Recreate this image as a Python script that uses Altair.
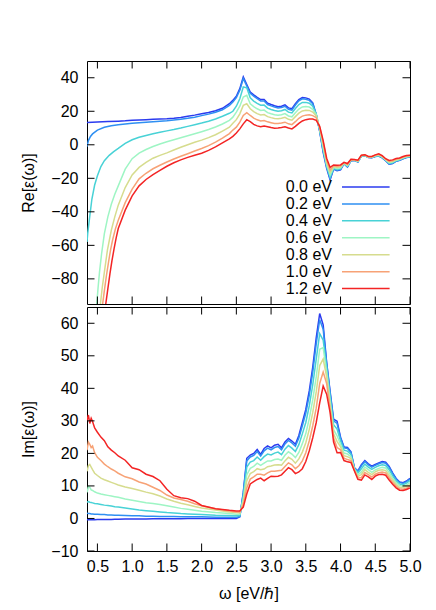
import altair as alt
import pandas as pd

FONT = "Liberation Sans"
LABELS = ["0.0 eV", "0.2 eV", "0.4 eV", "0.6 eV", "0.8 eV", "1.0 eV", "1.2 eV"]
COLORS = ["#2b3bef", "#2e8ff2", "#48d2d6", "#9ef5c4", "#d6dc8e", "#f7a276", "#f32424"]

X_TICKS = [0.5, 1.0, 1.5, 2.0, 2.5, 3.0, 3.5, 4.0, 4.5, 5.0]
RE_TICKS = [-80, -60, -40, -20, 0, 20, 40]
IM_TICKS = [-10, 0, 10, 20, 30, 40, 50, 60]

# ---------------- Re[eps] ----------------
RE_X = [0.8, 0.9, 1.0, 1.1, 1.2, 1.3, 1.4, 1.5, 1.6, 1.7, 1.8, 1.9, 2.0, 2.1, 2.2, 2.3, 2.4,
        2.45, 2.5, 2.55, 2.6, 2.65, 2.7, 2.75, 2.8, 2.85, 2.9, 2.95, 3.0, 3.05, 3.1, 3.15, 3.2,
        3.25, 3.3, 3.35, 3.4, 3.45, 3.5, 3.55, 3.6, 3.65, 3.7, 3.75, 3.8, 3.85, 3.9, 3.95, 4.0,
        4.05, 4.1, 4.15, 4.2, 4.25, 4.3, 4.35, 4.4, 4.45, 4.5, 4.55, 4.6, 4.65, 4.7, 4.75, 4.8,
        4.85, 4.9, 4.95, 5.0]

RE_LEFT_X = [
    [0.35, 0.5, 0.65],
    [0.35, 0.37, 0.4, 0.43, 0.5, 0.6, 0.7],
    [0.35, 0.36, 0.38, 0.42, 0.46, 0.5, 0.55, 0.6, 0.67, 0.73],
    [0.49, 0.51, 0.53, 0.56, 0.6, 0.65, 0.7, 0.75],
    [0.543, 0.57, 0.6, 0.645, 0.7, 0.75],
    [0.575, 0.6, 0.63, 0.66, 0.69, 0.72, 0.76],
    [0.62, 0.65, 0.68, 0.71, 0.74, 0.77],
]
RE_LEFT_Y = [
    [13.3, 13.6, 13.9],
    [-1.0, 2.5, 5.0, 6.5, 8.8, 10.5, 11.4],
    [-58.0, -53.0, -46.0, -32.5, -24.0, -18.5, -13.0, -9.5, -6.3, -4.2],
    [-95.0, -85.0, -76.0, -65.0, -53.0, -43.0, -35.5, -29.5],
    [-95.0, -85.0, -76.0, -62.5, -51.0, -43.0],
    [-95.0, -87.0, -78.0, -70.0, -62.5, -56.5, -50.0],
    [-95.0, -86.0, -77.0, -69.0, -62.0, -55.5],
]

RE_00 = [14.1, 14.3, 14.6, 14.8, 15.0, 15.2, 15.4, 15.6, 15.9, 16.3, 17.0, 17.7, 18.5, 19.3, 20.3, 21.8, 24.5,
         26.5, 29.0, 33.5, 40.5, 36.0, 31.5, 29.8, 28.3, 27.0, 27.0,
         24.8, 24.0, 23.3, 22.7, 23.0, 23.8, 22.0, 21.5, 24.5, 27.0,
         28.2, 28.0, 27.3, 25.0, 18.0, 8.0, -4.5, -14.0, -21.0, -14.5,
         -15.5, -15.0, -11.3, -13.3, -9.5, -9.3, -10.3, -6.8, -6.5, -7.6,
         -7.7, -7.0, -6.7, -7.8, -9.5, -11.6, -11.2, -9.8, -9.3, -8.3,
         -7.6, -7.3]
RE_02 = [12.0, 12.4, 12.8, 13.2, 13.5, 13.8, 14.1, 14.4, 14.8, 15.2, 15.8, 16.5, 17.4, 18.3, 19.4, 20.9, 23.5,
         25.6, 28.2, 32.5, 39.5, 35.2, 30.7, 29.0, 27.5, 26.2, 26.2,
         24.0, 23.2, 22.5, 21.9, 22.2, 23.0, 21.2, 20.7, 23.7, 26.2,
         27.4, 27.2, 26.5, 24.5, 18.0, 8.3, -3.8, -13.0, -20.0, -14.5,
         -15.2, -14.6, -11.2, -13.1, -9.4, -9.2, -10.2, -6.7, -6.4, -7.5,
         -7.6, -6.9, -6.6, -7.7, -9.4, -11.4, -11.0, -9.7, -9.2, -8.2,
         -7.5, -7.2]
RE_04 = [-2.2, 0.8, 3.0, 4.5, 5.6, 6.6, 7.5, 8.3, 9.1, 10.0, 11.0, 12.0, 13.0, 14.1, 15.4, 17.0, 18.8,
         20.0, 23.0, 27.5, 34.5, 34.0, 28.0, 26.1, 24.7, 23.6, 23.7,
         21.9, 21.1, 20.5, 20.0, 20.3, 21.1, 19.5, 19.0, 21.7, 24.0,
         25.3, 25.3, 24.8, 23.0, 18.5, 8.8, -3.0, -12.8, -19.5, -14.0,
         -14.8, -14.4, -11.1, -12.9, -9.3, -9.2, -10.1, -6.7, -6.4, -7.5,
         -7.6, -6.8, -6.4, -7.5, -9.2, -11.1, -10.7, -9.5, -9.0, -8.0,
         -7.3, -7.1]
RE_06 = [-24.5, -14.5, -8.3, -5.0, -2.8, -1.0, 0.5, 1.8, 3.0, 4.2, 5.4, 6.6, 7.8, 9.1, 10.6, 12.4, 14.6,
         16.5, 19.5, 23.0, 28.5, 29.5, 24.5, 22.8, 21.5, 20.5, 20.7,
         19.2, 18.5, 17.9, 17.6, 17.9, 18.6, 17.2, 16.7, 19.1, 21.3,
         22.6, 22.8, 22.5, 21.2, 18.0, 9.3, -1.5, -11.6, -18.0, -13.5,
         -14.2, -13.8, -11.0, -12.5, -9.1, -9.1, -9.9, -6.6, -6.3, -7.4,
         -7.4, -6.6, -6.2, -7.3, -9.0, -10.7, -10.3, -9.2, -8.7, -7.8,
         -7.1, -6.9]
RE_08 = [-36.0, -25.5, -18.0, -13.5, -10.5, -8.0, -6.3, -4.8, -3.1, -1.5, 0.0, 1.5, 2.8, 4.3, 6.0, 8.2, 10.5,
         12.8, 15.0, 18.5, 23.5, 24.5, 21.5, 19.8, 18.6, 17.8, 18.0,
         16.8, 16.2, 15.7, 15.5, 15.8, 16.4, 15.2, 14.7, 16.8, 18.9,
         20.2, 20.6, 20.5, 19.5, 17.2, 9.8, 0.0, -10.4, -16.5, -13.0,
         -13.6, -13.3, -10.8, -12.1, -9.0, -9.0, -9.7, -6.5, -6.2, -7.3,
         -7.3, -6.4, -5.9, -7.0, -8.8, -10.3, -9.9, -8.9, -8.5, -7.6,
         -6.9, -6.7]
RE_10 = [-45.0, -34.5, -26.5, -20.3, -17.0, -14.3, -12.2, -10.3, -8.5, -6.8, -5.3, -3.7, -2.2, -0.5, 1.6, 4.0, 6.7,
         8.8, 10.5, 13.5, 17.5, 19.2, 17.5, 15.9, 14.9, 14.2, 14.5,
         13.7, 13.2, 12.7, 12.7, 13.0, 13.5, 12.5, 12.0, 13.8, 15.8,
         17.1, 17.7, 17.9, 17.4, 16.2, 10.4, 1.5, -9.2, -15.0, -12.5,
         -12.9, -12.6, -10.7, -11.6, -8.8, -8.9, -9.4, -6.3, -6.0, -7.1,
         -7.1, -6.2, -5.7, -6.8, -8.5, -9.8, -9.5, -8.5, -8.2, -7.3,
         -6.7, -6.4]
RE_12 = [-50.0, -39.0, -30.5, -24.5, -20.7, -17.8, -15.3, -12.8, -10.7, -9.0, -7.5, -6.2, -5.0, -3.3, -1.2, 1.2, 3.5,
         5.0, 7.0, 9.5, 12.5, 15.0, 13.8, 12.2, 11.3, 10.8, 11.2,
         10.8, 10.3, 9.9, 10.0, 10.3, 10.8, 10.0, 9.5, 11.0, 12.8,
         14.2, 15.0, 15.4, 15.4, 14.6, 11.0, 2.5, -8.0, -13.5, -12.0,
         -12.2, -12.0, -10.5, -11.2, -8.6, -8.8, -9.2, -6.2, -5.9, -7.0,
         -7.0, -6.0, -5.4, -6.5, -8.3, -9.3, -9.0, -8.2, -7.9, -7.0,
         -6.4, -6.2]
RE_SERIES = [RE_00, RE_02, RE_04, RE_06, RE_08, RE_10, RE_12]

# ---------------- Im[eps] ----------------
IM_X = [0.35, 0.37, 0.39, 0.41, 0.43, 0.46, 0.5, 0.55, 0.6, 0.65, 0.7, 0.75, 0.8, 0.9, 1.0, 1.1,
        1.2, 1.3, 1.4, 1.5, 1.6, 1.7, 1.8, 1.9, 2.0, 2.2, 2.4, 2.5,
        2.55, 2.6, 2.65, 2.7, 2.75, 2.8, 2.85, 2.9, 2.95, 3.0, 3.05, 3.1, 3.15, 3.2, 3.25, 3.3,
        3.35, 3.4, 3.45, 3.5, 3.55, 3.6, 3.65, 3.7, 3.75, 3.8, 3.85, 3.9, 3.95, 4.0, 4.05, 4.1,
        4.15, 4.2, 4.25, 4.3, 4.35, 4.4, 4.45, 4.5, 4.55, 4.6, 4.65, 4.7, 4.75, 4.8, 4.85, 4.9,
        4.95, 5.0]

IM_00 = [-0.4, -0.4, -0.4, -0.4, -0.4, -0.4, -0.35, -0.35, -0.3, -0.3, -0.3, -0.25, -0.25, -0.2,
         -0.2, -0.15, -0.15, -0.1, -0.1, -0.1, -0.05, -0.05, 0.0, 0.0, 0.0, 0.0, 0.0, 0.0,
         0.5, 8.0, 18.5, 19.5, 20.0, 21.2, 19.7, 21.5, 22.3, 21.7,
         22.5, 22.8, 21.7, 23.5, 24.6, 23.8, 22.8, 25.5, 29.5, 33.5,
         39.2, 46.5, 55.5, 63.0, 59.5, 48.0, 39.0, 30.5, 29.9, 25.0,
         22.0, 21.8, 20.5, 15.6, 14.6, 16.5, 17.8, 16.8, 16.1, 16.6,
         17.1, 17.5, 17.3, 16.0, 14.0, 12.3, 11.2, 11.0, 11.5, 12.3]
IM_02 = [1.6, 1.5, 1.5, 1.4, 1.4, 1.3, 1.3, 1.2, 1.2, 1.1, 1.1, 1.0, 1.0, 0.9, 0.8, 0.8, 0.7, 0.7,
         0.6, 0.6, 0.6, 0.5, 0.5, 0.5, 0.5, 0.4, 0.4, 0.4,
         0.6, 7.7, 17.7, 18.9, 19.4, 20.6, 19.2, 20.8, 21.6, 21.1,
         21.8, 22.1, 21.1, 22.9, 24.0, 23.2, 22.2, 24.7, 28.5, 32.4,
         37.9, 45.0, 53.7, 61.1, 58.2, 47.5, 38.5, 30.0, 29.2, 24.7,
         21.7, 21.5, 20.3, 15.5, 14.4, 16.2, 17.5, 16.5, 15.8, 16.3,
         16.8, 17.2, 17.0, 15.7, 13.8, 12.1, 11.0, 10.8, 11.3, 12.1]
IM_04 = [5.0, 5.2, 5.0, 4.9, 4.8, 4.6, 4.5, 4.3, 4.1, 4.0, 3.8, 3.6, 3.5, 3.2, 2.9, 2.6, 2.4, 2.2,
         2.0, 1.8, 1.7, 1.5, 1.4, 1.3, 1.2, 1.0, 0.9, 0.8,
         0.9, 6.9, 15.8, 17.3, 17.8, 18.9, 17.9, 19.0, 19.8, 19.5,
         20.1, 20.4, 19.6, 21.3, 22.4, 21.6, 20.6, 22.7, 26.0, 29.5,
         34.6, 41.1, 49.0, 56.8, 54.8, 46.5, 37.4, 28.8, 27.5, 23.8,
         21.0, 20.7, 19.7, 15.4, 14.0, 15.3, 16.7, 15.8, 15.1, 15.7,
         16.2, 16.5, 16.3, 15.0, 13.1, 11.6, 10.6, 10.4, 10.9, 11.6]
IM_06 = [8.0, 9.8, 9.6, 8.8, 8.6, 8.2, 7.8, 7.5, 7.3, 7.1, 6.9, 6.7, 6.5, 6.0, 5.6, 5.2, 4.8, 4.6,
         4.3, 3.9, 3.5, 3.1, 2.8, 2.5, 2.2, 1.8, 1.5, 1.3,
         1.3, 5.9, 13.4, 15.4, 16.0, 17.0, 16.3, 17.0, 17.7, 17.7,
         18.1, 18.3, 17.9, 19.4, 20.5, 19.8, 18.7, 20.3, 23.0, 26.1,
         30.7, 36.5, 43.5, 52.0, 52.5, 45.0, 36.0, 27.3, 25.4, 22.8,
         20.1, 19.8, 19.0, 15.1, 13.4, 14.3, 15.8, 15.0, 14.2, 14.9,
         15.4, 15.7, 15.5, 14.1, 12.4, 11.0, 10.1, 9.9, 10.3, 11.0]
IM_08 = [14.5, 16.2, 16.6, 15.8, 15.0, 13.9, 13.2, 12.4, 11.9, 11.5, 11.1, 10.7, 10.3, 9.7, 9.2, 8.7,
         8.1, 7.6, 6.9, 6.0, 5.3, 4.7, 4.2, 3.7, 3.2, 2.6, 2.0, 1.8,
         1.7, 5.1, 11.5, 13.8, 14.4, 15.3, 15.0, 15.2, 15.9, 16.1,
         16.4, 16.5, 16.4, 17.7, 18.8, 18.2, 17.0, 18.3, 20.4, 23.3,
         27.4, 32.6, 38.9, 47.0, 49.0, 43.5, 34.8, 26.0, 23.7, 22.0,
         19.3, 19.0, 18.4, 15.0, 12.9, 13.5, 15.0, 14.2, 13.5, 14.3,
         14.8, 15.0, 14.7, 13.3, 11.8, 10.4, 9.6, 9.5, 9.8, 10.4]
IM_10 = [21.0, 23.5, 22.8, 21.8, 22.3, 20.2, 18.8, 17.8, 16.7, 15.9, 15.2, 14.6, 13.9, 12.8, 12.2, 11.2,
         10.6, 9.6, 8.6, 7.2, 6.3, 5.8, 5.3, 4.5, 3.9, 3.0, 2.3, 2.0,
         2.0, 4.3, 9.4, 12.1, 12.8, 13.6, 13.6, 13.3, 14.0, 14.5,
         14.5, 14.7, 14.8, 16.0, 17.1, 16.5, 15.3, 16.2, 17.7, 20.2,
         23.9, 28.5, 33.9, 41.5, 45.0, 41.5, 33.6, 24.7, 21.8, 21.1,
         18.5, 18.1, 17.8, 14.8, 12.4, 12.6, 14.1, 13.5, 12.7, 13.6,
         14.1, 14.3, 14.0, 12.5, 11.1, 9.9, 9.1, 9.0, 9.3, 9.9]
IM_12 = [30.0, 31.8, 29.2, 30.8, 29.8, 27.8, 26.5, 25.0, 23.9, 22.0, 21.0, 20.2, 19.2, 17.9, 15.6, 15.0,
         13.6, 12.9, 11.6, 9.0, 7.0, 6.4, 6.1, 5.3, 4.0, 3.0, 2.5, 2.3,
         2.3, 3.5, 7.5, 10.6, 11.3, 12.0, 12.4, 11.6, 12.3, 13.0,
         12.9, 13.0, 13.4, 14.5, 15.6, 15.0, 13.8, 14.3, 15.3, 17.5,
         20.8, 24.8, 29.5, 35.5, 40.7, 38.2, 32.5, 23.5, 20.2, 20.3,
         17.8, 17.4, 17.2, 14.6, 12.0, 11.8, 13.4, 12.8, 12.0, 13.0,
         13.5, 13.6, 13.3, 11.8, 10.5, 9.4, 8.7, 8.6, 8.9, 9.4]
IM_SERIES = [IM_00, IM_02, IM_04, IM_06, IM_08, IM_10, IM_12]


def build(xs_main, series, left_x=None, left_y=None):
    rows = []
    for i, lab in enumerate(LABELS):
        xs = (left_x[i] if left_x else []) + xs_main
        ys = (left_y[i] if left_y else []) + series[i]
        assert len(xs) == len(ys), (lab, len(xs), len(ys))
        for x, y in zip(xs, ys):
            rows.append({"x": x, "y": y, "s": lab})
    return pd.DataFrame(rows)


re_df = build(RE_X, RE_SERIES, RE_LEFT_X, RE_LEFT_Y)
im_df = build(IM_X, IM_SERIES)

W, H1, H2 = 323, 243, 244
TICK = 7.5
FS = 16

csc = alt.Scale(domain=LABELS, range=COLORS)


def xscale():
    return alt.Scale(domain=[0.35, 5.0], nice=False, zero=False)


def yaxis(vals, title):
    return alt.Axis(values=vals, title=title, ticks=False, domain=False, grid=False,
                    labelPadding=9, titlePadding=14, labelFont=FONT, titleFont=FONT,
                    labelFontSize=FS, titleFontSize=FS, labelColor="black", titleColor="black",
                    titleFontWeight="normal")


def panel(df, ydom, yticks, ytitle, h, show_x, legend):
    def ysc():
        return alt.Scale(domain=ydom, nice=False, zero=False)
    if show_x:
        xax = alt.Axis(values=X_TICKS, format=".1f", title="ω [eV/ℏ]", ticks=False, domain=False,
                       grid=False, labelPadding=7, titlePadding=11, labelFont=FONT, titleFont=FONT,
                       labelFontSize=FS, titleFontSize=FS, labelColor="black", titleColor="black",
                       titleFontWeight="normal", labelFlush=False)
    else:
        xax = None
    lines = alt.Chart(df).mark_line(strokeWidth=1.5, clip=True).encode(
        x=alt.X("x:Q", scale=xscale(), axis=xax),
        y=alt.Y("y:Q", scale=ysc(), axis=yaxis(yticks, ytitle)),
        color=alt.Color("s:N", scale=csc, legend=None),
    )
    xt = alt.Chart(pd.DataFrame({"t": X_TICKS}))
    yt = alt.Chart(pd.DataFrame({"t": yticks}))
    tb = xt.mark_rule(color="black", strokeWidth=1).encode(
        x=alt.X("t:Q", scale=xscale(), axis=None), y=alt.value(h), y2=alt.value(h - TICK))
    tt = xt.mark_rule(color="black", strokeWidth=1).encode(
        x=alt.X("t:Q", scale=xscale(), axis=None), y=alt.value(0), y2=alt.value(TICK))
    tl = yt.mark_rule(color="black", strokeWidth=1).encode(
        y=alt.Y("t:Q", scale=ysc(), axis=None), x=alt.value(0), x2=alt.value(TICK))
    tr = yt.mark_rule(color="black", strokeWidth=1).encode(
        y=alt.Y("t:Q", scale=ysc(), axis=None), x=alt.value(W), x2=alt.value(W - TICK))
    layers = [lines, tb, tt, tl, tr]
    if legend:
        leg = alt.Chart(pd.DataFrame({"s": LABELS, "r": list(range(len(LABELS)))}))
        ly = alt.Y("r:Q", scale=alt.Scale(domain=[0, 6], range=[126.0, 227.6]), axis=None)
        txt = leg.mark_text(align="right", baseline="middle", font=FONT, fontSize=FS,
                            color="black").encode(y=ly, x=alt.value(245), text="s:N")
        sw = leg.mark_rule(strokeWidth=1.5).encode(
            y=ly, x=alt.value(255), x2=alt.value(302.6),
            color=alt.Color("s:N", scale=csc, legend=None))
        layers += [txt, sw]
    ch = alt.layer(*layers).properties(width=W, height=h)
    ch = ch.resolve_scale(x="independent", y="independent")
    return ch


top = panel(re_df, [-95, 50], RE_TICKS, "Re[ε(ω)]", H1, False, True)
bottom = panel(im_df, [-10, 65], IM_TICKS, "Im[ε(ω)]", H2, True, False)

chart = alt.vconcat(top, bottom, spacing=1).properties(
    padding={"left": 12, "top": 52, "right": 5, "bottom": 5}
).configure_view(stroke="black", strokeWidth=1)

chart.save("out.html", embed_options={"renderer": "svg", "actions": False})
